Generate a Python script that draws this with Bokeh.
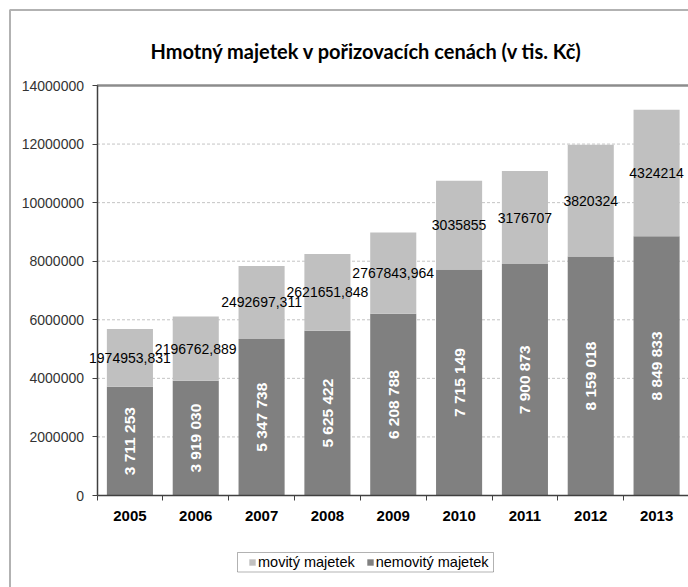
from math import pi
from bokeh.plotting import figure
from bokeh.models import (ColumnDataSource, FixedTicker, BasicTickFormatter, Legend,
                          LegendItem, Label, LabelSet, BoxAnnotation, Range1d)
from bokeh.embed import file_html
from bokeh.resources import INLINE
from bokeh.core.properties import value

years = ["2005", "2006", "2007", "2008", "2009", "2010", "2011", "2012", "2013"]
nemovity = [3711253, 3919030, 5347738, 5625422, 6208788, 7715149, 7900873, 8159018, 8849833]
movity = [1974953.831, 2196762.889, 2492697.311, 2621651.848, 2767843.964,
          3035855, 3176707, 3820324, 4324214]
y_ticks = [0, 2000000, 4000000, 6000000, 8000000, 10000000, 12000000, 14000000]
title_text = "Hmotný majetek v pořizovacích cenách (v tis. Kč)"
series_names = ["movitý majetek", "nemovitý majetek"]

DARK = "#808080"
LIGHT = "#c0c0c0"
FONT = "Liberation Sans"

# canvas layout (pixels): plot area left/right/top/bottom
W, H = 688, 587
PL, PR, PT, PB = 96.5, 689.0, 85.0, 495.0
n = len(years)
ppx = (PR - PL) / n                      # pixels per category
ypp = (y_ticks[-1] - y_ticks[0]) / (PB - PT)  # value per pixel
x_range = Range1d(0 - PL / ppx, n - (PR - W) / ppx)
y_range = Range1d(y_ticks[0] - (H - PB) * ypp, y_ticks[-1] + PT * ypp)

xs = [i + 0.5 for i in range(n)]
totals = [a + b for a, b in zip(nemovity, movity)]
src = ColumnDataSource(dict(
    x=xs,
    nem=nemovity,
    tot=totals,
    mid_nem=[a / 2 for a in nemovity],
    mid_mov=[a + b / 2 for a, b in zip(nemovity, movity)],
    lab_nem=[f"{a:,}".replace(",", " ") for a in nemovity],
    lab_mov=[str(b).replace(".", ",") for b in movity],
))

p = figure(width=W, height=H, x_range=x_range, y_range=y_range,
           output_backend="svg", toolbar_location=None,
           min_border_left=0, min_border_right=0, min_border_top=0, min_border_bottom=0)
p.background_fill_color = "white"
p.border_fill_color = "white"
p.outline_line_color = None
p.xgrid.visible = False
p.ygrid.visible = False

# dashed gridlines within the plot area
p.segment(x0=0, x1=n, y0=y_ticks[1:-1], y1=y_ticks[1:-1],
          line_color="#c4c4c4", line_dash="3 2", line_width=1)
# plot-area top border
p.segment(x0=[0], x1=[n], y0=[y_ticks[-1]], y1=[y_ticks[-1]],
          line_color="#8c8c8c", line_width=2.5)

r_nem = p.vbar(x="x", width=0.7, bottom=0, top="nem", source=src,
               fill_color=DARK, line_color=None)
r_mov = p.vbar(x="x", width=0.7, bottom="nem", top="tot", source=src,
               fill_color=LIGHT, line_color=None)

p.add_layout(LabelSet(x="x", y="mid_mov", text="lab_mov", source=src,
                      text_align="center", text_baseline="middle",
                      text_font=value(FONT), text_font_size="14px", text_color="#000000"))
p.add_layout(LabelSet(x="x", y="mid_nem", text="lab_nem", source=src, angle=pi / 2,
                      text_align="center", text_baseline="middle",
                      text_font=value(FONT), text_font_size="15.5px", text_font_style="bold",
                      text_color="#ffffff"))

# y axis
p.yaxis.fixed_location = 0
p.yaxis.bounds = (y_ticks[0], y_ticks[-1])
p.yaxis.ticker = FixedTicker(ticks=y_ticks)
p.yaxis.formatter = BasicTickFormatter(use_scientific=False)
p.yaxis.major_tick_out = 5
p.yaxis.major_tick_in = 0
p.yaxis.minor_tick_line_color = None
p.yaxis.axis_line_color = "#404040"
p.yaxis.axis_line_width = 1.5
p.yaxis.major_tick_line_color = "#404040"
p.yaxis.major_label_text_font = FONT
p.yaxis.major_label_text_font_size = "14px"
p.yaxis.major_label_text_color = "#333333"
p.yaxis.major_label_standoff = 8

# x axis
p.xaxis.fixed_location = 0
p.xaxis.bounds = (0, n)
p.xaxis.ticker = FixedTicker(ticks=xs, minor_ticks=list(range(n + 1)))
p.xaxis.major_label_overrides = {x: y for x, y in zip(xs, years)}
p.xaxis.major_tick_line_color = None
p.xaxis.major_tick_out = 0
p.xaxis.major_tick_in = 0
p.xaxis.minor_tick_line_color = "#404040"
p.xaxis.minor_tick_out = 5
p.xaxis.minor_tick_in = 0
p.xaxis.axis_line_color = "#404040"
p.xaxis.axis_line_width = 1.5
p.xaxis.major_label_text_font = FONT
p.xaxis.major_label_text_font_size = "15px"
p.xaxis.major_label_text_font_style = "bold"
p.xaxis.major_label_text_color = "#000000"
p.xaxis.major_label_standoff = 10

# legend frame (drawn first), then the legend items inside it
p.add_layout(BoxAnnotation(left=237, right=493, top=H - 552, bottom=H - 571.5,
                           left_units="screen", right_units="screen",
                           top_units="screen", bottom_units="screen",
                           fill_color="white", fill_alpha=1,
                           line_color="#000000", line_width=1))
legend = Legend(items=[LegendItem(label=series_names[0], renderers=[r_mov]),
                       LegendItem(label=series_names[1], renderers=[r_nem])],
                orientation="horizontal", location=(248, 17),
                glyph_width=8, glyph_height=8, label_standoff=2, spacing=11,
                padding=0, margin=0, border_line_color=None,
                background_fill_alpha=0,
                label_text_font=FONT, label_text_font_size="14.5px", label_text_color="#000000",
                label_height=16)
p.add_layout(legend, "center")

p.add_layout(Label(x=366, y=H - 50, x_units="screen", y_units="screen", text=title_text,
                   text_align="center", text_baseline="middle",
                   text_font="Lato", text_font_size="20px", text_font_style="bold",
                   text_color="#000000"))

# chart-area border (left and top edges visible; the rest lies past the canvas)
p.add_layout(BoxAnnotation(left=9.5, right=W + 10, top=H - 9.5, bottom=-10,
                           left_units="screen", right_units="screen",
                           top_units="screen", bottom_units="screen",
                           fill_alpha=0, line_color="#000000", line_width=2))

open("out.html", "w").write(file_html(p, INLINE))
